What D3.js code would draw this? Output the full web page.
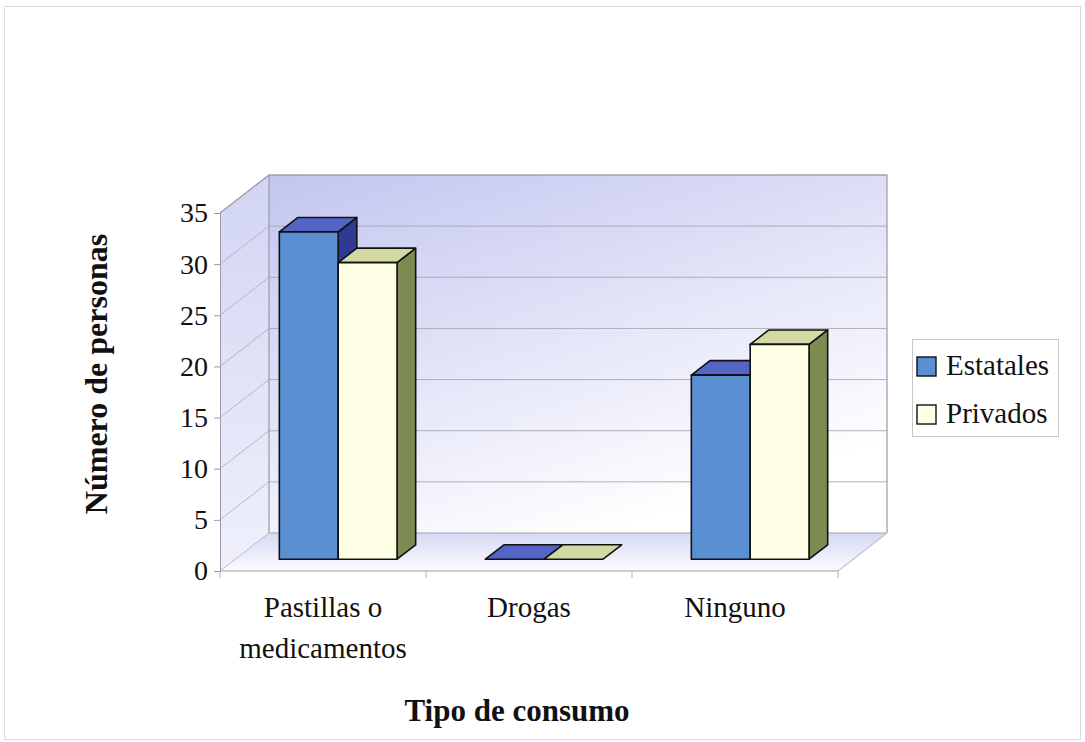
<!DOCTYPE html>
<html>
<head>
<meta charset="utf-8">
<script src="https://cdn.jsdelivr.net/npm/d3@7"></script>
<style>
  html, body { margin: 0; padding: 0; background: #ffffff; }
  svg { display: block; }
</style>
</head>
<body>
<svg id="chart" width="1085" height="742"></svg>
<script>
// Data
const categories = ["Pastillas o\nmedicamentos", "Drogas", "Ninguno"];
const seriesNames = ["Estatales", "Privados"];
const estatales = [32, 0, 18];
const privados = [29, 0, 21];
const yTicks = [0, 5, 10, 15, 20, 25, 30, 35];

const seriesValues = [estatales, privados];

const SERIF = "'Liberation Serif', 'DejaVu Serif', serif";

// Bar colours per series: front, top, side
const palette = [
  { front: "#5b8fd3", top: "#5464c4", side: "#2f3a92" },
  { front: "#ffffe6", top: "#d3d9a2", side: "#7d8a52" }
];

const svg = d3.select("#chart");
const W = 1085, H = 742;

// Plot geometry (front plane) and oblique depth offset
const x0 = 220, x1 = 838;
const yBottom = 571, yTop = 213;
const DX = 49, DY = -38;
const d0 = 0.31, d1 = 0.69; // bar depth span within the floor

const y = d3.scaleLinear().domain([0, 35]).range([yBottom, yTop]);
const xCat = d3.scaleBand().domain(d3.range(categories.length)).range([x0, x1]);
// gap width 150%: 2 bars + 1.5 bar widths per band
const barW = xCat.bandwidth() / 3.5;

// projection of (screen x at front, value, depth fraction)
const P = (px, v, d) => [px + d * DX, y(v) + d * DY];
const pts = arr => arr.map(p => p.join(",")).join(" ");

const defs = svg.append("defs");
const g1 = defs.append("linearGradient").attr("id", "backWall")
  .attr("x1", 0).attr("y1", 0).attr("x2", 0.55).attr("y2", 1);
g1.append("stop").attr("offset", "0%").attr("stop-color", "#c2c6ef");
g1.append("stop").attr("offset", "55%").attr("stop-color", "#e4e5f8");
g1.append("stop").attr("offset", "100%").attr("stop-color", "#ffffff");

const g2 = defs.append("linearGradient").attr("id", "sideWall")
  .attr("x1", 0).attr("y1", 0).attr("x2", 0).attr("y2", 1);
g2.append("stop").attr("offset", "0%").attr("stop-color", "#d2d5f3");
g2.append("stop").attr("offset", "100%").attr("stop-color", "#eff0fb");

const g3 = defs.append("linearGradient").attr("id", "floor")
  .attr("x1", 0).attr("y1", 0).attr("x2", 0).attr("y2", 1);
g3.append("stop").attr("offset", "0%").attr("stop-color", "#d5d9f4");
g3.append("stop").attr("offset", "100%").attr("stop-color", "#fbfbff");

// Outer frame
svg.append("rect").attr("x", 4.5).attr("y", 6.5).attr("width", W - 9).attr("height", H - 9)
  .attr("fill", "none").attr("stroke", "#dcdcdc").attr("stroke-width", 1);

const gridColor = "#a3a3ad";
const edgeColor = "#9a9aa4";

// Back wall
svg.append("polygon")
  .attr("points", pts([P(x0, 0, 1), P(x0, 35, 1), P(x1, 35, 1), P(x1, 0, 1)]))
  .attr("fill", "url(#backWall)");

// Left wall
svg.append("polygon")
  .attr("points", pts([P(x0, 0, 0), P(x0, 35, 0), P(x0, 35, 1), P(x0, 0, 1)]))
  .attr("fill", "url(#sideWall)");

// Floor
svg.append("polygon")
  .attr("points", pts([P(x0, 0, 0), P(x1, 0, 0), P(x1, 0, 1), P(x0, 0, 1)]))
  .attr("fill", "url(#floor)");

// Gridlines on back wall and left wall
const grid = svg.append("g").attr("fill", "none").attr("stroke", gridColor).attr("stroke-width", 1);
yTicks.forEach(t => {
  const a = P(x0, t, 1), b = P(x1, t, 1), c = P(x0, t, 0);
  grid.append("line").attr("x1", a[0]).attr("y1", a[1]).attr("x2", b[0]).attr("y2", b[1])
    .attr("stroke-opacity", t === 0 ? 1 : 0.85);
  grid.append("line").attr("x1", c[0]).attr("y1", c[1]).attr("x2", a[0]).attr("y2", a[1])
    .attr("stroke-opacity", 0.7);
});

// Wall edges
const edges = svg.append("g").attr("fill", "none").attr("stroke", edgeColor).attr("stroke-width", 1.2);
edges.append("polyline").attr("points", pts([P(x0, 0, 1), P(x0, 35, 1), P(x1, 35, 1), P(x1, 0, 1)]));
edges.append("line")
  .attr("x1", P(x0, 35, 0)[0]).attr("y1", P(x0, 35, 0)[1])
  .attr("x2", P(x0, 35, 1)[0]).attr("y2", P(x0, 35, 1)[1]);
edges.append("line").attr("stroke", "#c4c4cc")
  .attr("x1", P(x1, 0, 0)[0]).attr("y1", P(x1, 0, 0)[1])
  .attr("x2", P(x1, 0, 1)[0]).attr("y2", P(x1, 0, 1)[1]);

// Value axis (front left edge) with ticks
const yAxis = d3.axisLeft(y).tickValues(yTicks).tickSize(6).tickPadding(6);
const ya = svg.append("g").attr("transform", `translate(${x0},0)`).call(yAxis)
  .attr("font-family", null).attr("font-size", null);
ya.select(".domain").attr("stroke", edgeColor);
ya.selectAll(".tick line").attr("stroke", edgeColor);
ya.selectAll(".tick text")
  .style("font-family", SERIF).style("font-size", "28px").attr("fill", "#111");

// Category axis (front floor edge) with boundary ticks
const xa = svg.append("g");
xa.append("line").attr("x1", x0).attr("x2", x1).attr("y1", yBottom).attr("y2", yBottom)
  .attr("stroke", edgeColor).attr("stroke-width", 1);
const bounds = categories.map((c, i) => xCat(i)).concat([x1]);
xa.selectAll("line.tk").data(bounds).enter().append("line").attr("class", "tk")
  .attr("x1", d => d).attr("x2", d => d).attr("y1", yBottom).attr("y2", yBottom + 7)
  .attr("stroke", "#b0b0b8");

// Category labels
categories.forEach((c, i) => {
  const cx = xCat(i) + xCat.bandwidth() / 2;
  const lines = c.split("\n");
  const t = svg.append("text").attr("x", cx).attr("y", 617).attr("text-anchor", "middle")
    .style("font-family", SERIF).style("font-size", "29px").attr("fill", "#111");
  lines.forEach((ln, k) => {
    t.append("tspan").attr("x", cx).attr("dy", k === 0 ? 0 : 41).text(ln);
  });
});

// 3D bars
const bars = svg.append("g").attr("stroke", "#111").attr("stroke-width", 1.6)
  .attr("stroke-linejoin", "round");
categories.forEach((c, i) => {
  const groupLeft = xCat(i) + xCat.bandwidth() / 2 - barW;
  seriesValues.forEach((vals, s) => {
    const v = vals[i];
    const L = groupLeft + s * barW, R = L + barW;
    const col = palette[s];
    if (v > 0) {
      bars.append("polygon").attr("fill", col.side)
        .attr("points", pts([P(R, 0, d0), P(R, v, d0), P(R, v, d1), P(R, 0, d1)]));
    }
    bars.append("polygon").attr("fill", col.top)
      .attr("points", pts([P(L, v, d0), P(R, v, d0), P(R, v, d1), P(L, v, d1)]));
    if (v > 0) {
      bars.append("polygon").attr("fill", col.front)
        .attr("points", pts([P(L, 0, d0), P(L, v, d0), P(R, v, d0), P(R, 0, d0)]));
    }
  });
});

// Axis titles
svg.append("text")
  .attr("transform", "translate(107,374) rotate(-90)")
  .attr("text-anchor", "middle")
  .style("font-family", SERIF).style("font-size", "32px").style("font-weight", "bold")
  .attr("fill", "#111")
  .text("Número de personas");

svg.append("text")
  .attr("x", 517).attr("y", 721).attr("text-anchor", "middle")
  .style("font-family", SERIF).style("font-size", "31px").style("font-weight", "bold")
  .attr("fill", "#111")
  .text("Tipo de consumo");

// Legend
const legend = svg.append("g").attr("transform", "translate(912,339)");
legend.append("rect").attr("x", 0.5).attr("y", 0.5).attr("width", 146).attr("height", 97)
  .attr("fill", "#ffffff").attr("stroke", "#c8c8c8");
seriesNames.forEach((name, s) => {
  const row = legend.append("g").attr("transform", `translate(5,${18 + s * 48})`);
  row.append("rect").attr("width", 19).attr("height", 19)
    .attr("fill", palette[s].front).attr("stroke", "#111").attr("stroke-width", 1.4);
  row.append("text").attr("x", 29).attr("y", 18)
    .style("font-family", SERIF).style("font-size", "29px").attr("fill", "#111")
    .text(name);
});
</script>
</body>
</html>
